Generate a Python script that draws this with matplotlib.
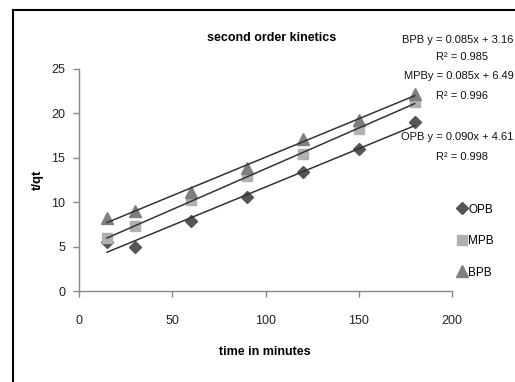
import matplotlib
matplotlib.use('Agg')
import matplotlib.pyplot as plt
import numpy as np

plt.rcParams['font.family'] = ['Liberation Sans', 'DejaVu Sans']

time_min = [15, 30, 60, 90, 120, 150, 180]
opb = [5.5, 4.95, 7.85, 10.55, 13.35, 16.0, 19.0]
mpb = [6.0, 7.3, 10.2, 12.9, 15.4, 18.2, 21.3]
bpb = [8.2, 9.0, 11.1, 13.8, 17.1, 19.3, 22.2]

eq_labels = ['BPB y = 0.085x + 3.16', 'MPBy = 0.085x + 6.49', 'OPB y = 0.090x + 4.61']
r2_labels = ['R\u00b2 = 0.985', 'R\u00b2 = 0.996', 'R\u00b2 = 0.998']

fig = plt.figure(figsize=(5.15, 3.82), dpi=100)
ax = fig.add_axes([0.1534, 0.2382, 0.7243, 0.5812])

# chart frame (cut off at right and bottom)
fig.add_artist(plt.Line2D([0.0252, 0.0252], [0, 0.974], color='black', lw=1.5))
fig.add_artist(plt.Line2D([0.0252, 1.0], [0.974, 0.974], color='black', lw=1.5))

series = [
    (opb, 'OPB', 'D', '#555555', 6),
    (mpb, 'MPB', 's', '#b0b0b0', 7.5),
    (bpb, 'BPB', '^', '#7f7f7f', 8),
]
x = np.array(time_min)
for y, name, m, c, ms in series:
    ax.plot(x, y, linestyle='none', marker=m, color=c, markersize=ms, label=name)
for y, name, m, c, ms in series:
    k, b = np.polyfit(x, y, 1)
    ax.plot([x[0], x[-1]], [k * x[0] + b, k * x[-1] + b], color='#333333', lw=1.1)

ax.set_xlim(0, 200)
ax.set_ylim(0, 25)
ax.set_xticks([0, 50, 100, 150, 200])
ax.set_yticks([0, 5, 10, 15, 20, 25])
for s in ['top', 'right']:
    ax.spines[s].set_visible(False)
for s in ['left', 'bottom']:
    ax.spines[s].set_color('#888888')
    ax.spines[s].set_linewidth(1)
ax.tick_params(axis='both', colors='#888888', labelcolor='#222222', labelsize=9, length=4, width=1)
ax.tick_params(axis='x', pad=13)
ax.tick_params(axis='y', pad=6)

fig.text(0.528, 0.9, 'second order kinetics', ha='center', va='center', fontsize=9, fontweight='bold')
fig.text(0.074, 0.53, 't/qt', ha='center', va='center', rotation=90, fontsize=9.5, fontweight='bold')
fig.text(0.515, 0.078, 'time in minutes', ha='center', va='center', fontsize=9, fontweight='bold')

leg = ax.legend(loc='upper left', bbox_to_anchor=(0.998, 0.415), frameon=False, fontsize=8.5,
                handletextpad=0.05, labelspacing=1.65, handlelength=1.0, borderaxespad=0)

eq_pos = [0.895, 0.801, 0.641]
r2_pos = [0.851, 0.749, 0.589]
for t, py in zip(eq_labels, eq_pos):
    fig.text(0.997, py, t, ha='right', va='center', fontsize=8, color='#111111')
for t, py in zip(r2_labels, r2_pos):
    fig.text(0.898, py, t, ha='center', va='center', fontsize=8, color='#111111')

fig.savefig('out.png', dpi=100)
